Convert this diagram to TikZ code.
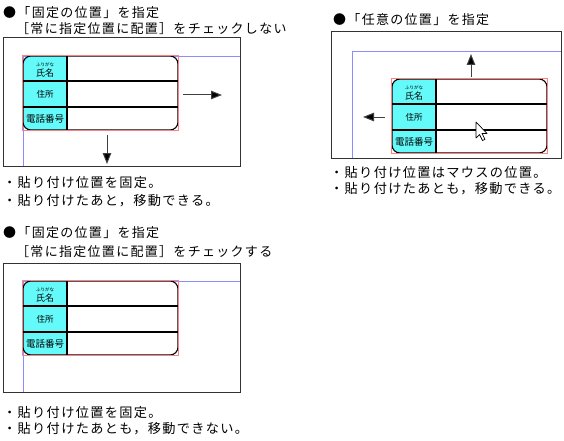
\documentclass[tikz,border=0pt]{standalone}
\usepackage{fontspec}
\usepackage{xcolor}
\newfontfamily\jp{Noto Sans CJK JP}
\newfontfamily\jpwide[LetterSpace=10]{Noto Sans CJK JP}
\usetikzlibrary{arrows.meta}

\definecolor{cellcyan}{RGB}{100,250,250}

\begin{document}
\begin{tikzpicture}[x=1pt, y=-1pt]
        % Styles for headings, notes, windows and cards
        \tikzstyle{heading} = [anchor=west, inner sep=0pt, font=\jpwide\fontsize{13}{16}\selectfont]
        \tikzstyle{note} = [anchor=west, inner sep=0pt, font=\jpwide\fontsize{13.2}{15}\selectfont]
        \tikzstyle{frame} = [draw=black!80, line width=1pt]
        \tikzstyle{guide} = [draw=blue!45, line width=0.6pt]
        \tikzstyle{select} = [draw=red!50, line width=0.6pt]
        \tikzstyle{cardline} = [draw=black, line width=1.1pt]
        \tikzstyle{label} = [inner sep=0pt, font=\jp\fontsize{8.5}{10}\selectfont]
        \tikzstyle{furi} = [inner sep=0pt, font=\jp\fontsize{4.5}{5}\selectfont]
        \tikzstyle{arrow} = [draw=black!75, line width=1pt, -{Triangle[length=11pt, width=8.5pt, fill=black]}]
        \tikzstyle{cursor} = [draw=black, fill=white, line width=0.7pt, line join=round]

        \useasboundingbox (0,0) rectangle (564,441);

        % Window frames
        \draw[frame] (3,38) rectangle (240,166);
        \draw[frame] (331,32) rectangle (561,158);
        \draw[frame] (3,263) rectangle (240,392);

        % Blue guides
        \draw[guide] (240,56) -- (23,56) -- (23,166);
        \draw[guide] (561,51) -- (352,51) -- (352,158);
        \draw[guide] (240,281) -- (23,281) -- (23,392);

        % Cards
        \foreach \cx/\cy/\k in {23/56/a, 392/79/b, 23/281/c} {
          \begin{scope}[shift={(\cx,\cy)}]
            \fill[white, rounded corners=8pt] (0,0) rectangle (155,74);
            \begin{scope}
              \clip[rounded corners=8pt] (0,0) rectangle (155,74);
              \fill[cellcyan] (0,0) rectangle (44,74);
            \end{scope}
            \draw[cardline] (44,0) -- (44,74) (0,25) -- (155,25) (0,51) -- (155,51);
            \draw[cardline, rounded corners=8pt] (0,0) rectangle (155,74);
            \draw[select] (-0.5,-0.5) rectangle (155.5,74.5);
            \node[furi] (furi\k) at (22,9) {ふりがな};
            \node[label, font=\jp\fontsize{9}{10}\selectfont] (name\k) at (22,17) {氏名};
            \node[label] (addr\k) at (22,38) {住所};
            \node[label, font=\jp\fontsize{9.5}{10}\selectfont] (tel\k) at (22,62.5) {電話番号};
          \end{scope}
        }

        % Arrows
        \coordinate (rightfrom) at (183,95);
        \coordinate (rightto) at (222,95);
        \coordinate (downfrom) at (107,135);
        \coordinate (downto) at (107,164);
        \coordinate (upfrom) at (471,77);
        \coordinate (upto) at (471,54);
        \coordinate (leftfrom) at (385,117);
        \coordinate (leftto) at (363,117);
        \draw[arrow] (rightfrom) -- (rightto);
        \draw[arrow] (downfrom) -- (downto);
        \draw[arrow] (upfrom) -- (upto);
        \draw[arrow] (leftfrom) -- (leftto);

        % Mouse pointer
        \coordinate (mouse) at (476,122);
        \draw[cursor] (mouse) -- ++(0,16) -- ++(3.5,-3.5) -- ++(3,6) -- ++(2.5,-1.2) -- ++(-3,-5.8) -- ++(5,0) -- cycle;

        % Texts
        \node[heading] (head1) at (3,13) {●「固定の位置」を指定};
        \node[heading] (head1b) at (16,29) {［常に指定位置に配置］をチェックしない};
        \node[note] (note1a) at (3,183) {・貼り付け位置を固定。};
        \node[note] (note1b) at (3,201) {・貼り付けたあと，移動できる。};
        \node[heading] (head2) at (333,20) {●「任意の位置」を指定};
        \node[note] (note2a) at (330,172) {・貼り付け位置はマウスの位置。};
        \node[note] (note2b) at (330,189) {・貼り付けたあとも，移動できる。};
        \node[heading] (head3) at (3,233) {●「固定の位置」を指定};
        \node[heading] (head3b) at (16,252) {［常に指定位置に配置］をチェックする};
        \node[note] (note3a) at (3,413) {・貼り付け位置を固定。};
        \node[note] (note3b) at (3,429) {・貼り付けたあとも，移動できない。};
\end{tikzpicture}
\end{document}
